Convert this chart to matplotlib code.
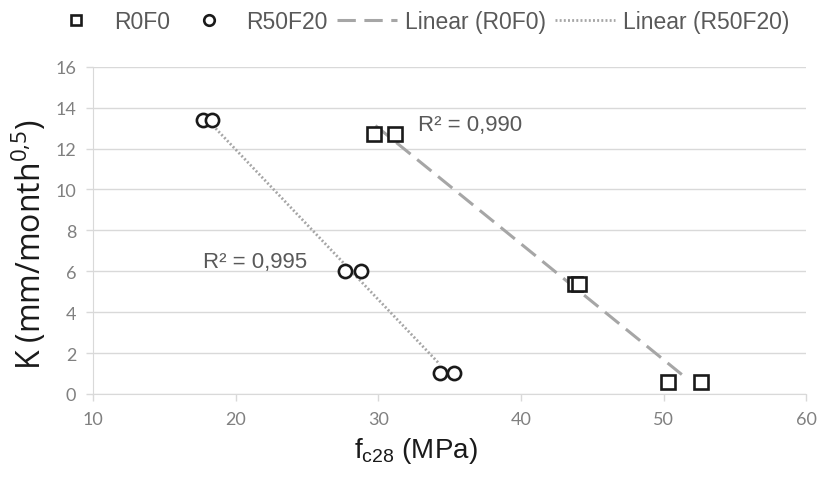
import numpy as np
import matplotlib.pyplot as plt

plt.rcParams['font.family'] = ['Liberation Sans', 'DejaVu Sans']
plt.rcParams['mathtext.default'] = 'regular'

# Data
r0f0_fc = [29.7, 31.2, 43.8, 44.1, 50.3, 52.6]
r0f0_k = [12.7, 12.7, 5.4, 5.4, 0.6, 0.6]
r50f20_fc = [17.7, 18.35, 27.7, 28.8, 34.3, 35.3]
r50f20_k = [13.4, 13.4, 6.0, 6.0, 1.0, 1.0]

# extent of the drawn trend lines
trend_r0f0_x = [29.8, 51.6]
trend_r50f20_x = [18.4, 34.3]
r2_labels = ['R² = 0,990', 'R² = 0,995']

fig = plt.figure(figsize=(8.22, 4.81), dpi=100)
ax = fig.add_axes([0.113, 0.179, 0.868, 0.68])

grid_c = '#d9d9d9'
tick_c = '#808080'
text_c = '#595959'

ax.plot(r0f0_fc, r0f0_k, 's', ms=9.5, mfc='white', mec='#1a1a1a', mew=1.9,
        label='R0F0', zorder=3)
ax.plot(r50f20_fc, r50f20_k, 'o', ms=9.5, mfc='white', mec='#1a1a1a', mew=1.9,
        label='R50F20', zorder=3)

# linear trend lines
p1 = np.polyfit(r0f0_fc, r0f0_k, 1)
xs1 = np.array(trend_r0f0_x)
ax.plot(xs1, np.polyval(p1, xs1), color='#a6a6a6', lw=2.2, ls=(0, (6, 2.8)),
        label='Linear (R0F0)', zorder=2)
p2 = np.polyfit(r50f20_fc, r50f20_k, 1)
xs2 = np.array(trend_r50f20_x)
ax.plot(xs2, np.polyval(p2, xs2), color='#a6a6a6', lw=2.0, ls=(0, (0.7, 0.8)),
        label='Linear (R50F20)', zorder=2)

ax.text(32.8, 13.2, r2_labels[0], fontsize=16, color=text_c, va='center')
ax.text(17.7, 6.5, r2_labels[1], fontsize=16, color=text_c, va='center')

ax.set_xlim(10, 60)
ax.set_ylim(0, 16)
ax.set_xticks(range(10, 61, 10))
ax.set_yticks(range(0, 17, 2))
ax.grid(axis='y', color=grid_c, lw=1)
ax.set_axisbelow(True)
for s in ['top', 'right']:
    ax.spines[s].set_visible(False)
for s in ['left', 'bottom']:
    ax.spines[s].set_color(grid_c)
ax.tick_params(axis='both', colors=grid_c, labelcolor=tick_c, labelsize=13,
               length=5, width=1)
ax.tick_params(axis='x', pad=7)
ax.tick_params(axis='y', pad=7)
for lab in ax.get_xticklabels() + ax.get_yticklabels():
    lab.set_family('Lato')

ax.set_xlabel('f$_{c28}$ (MPa)', fontsize=20, color='#1a1a1a')
ax.xaxis.set_label_coords(0.452, -0.125)
ax.set_ylabel('K (mm/month$^{0{,}5}$)', fontsize=23, color='#1a1a1a',
              family='Open Sans')
ax.yaxis.set_label_coords(-0.062, 0.46)

fig.legend(loc='center', bbox_to_anchor=(0.508, 0.953), ncol=4, frameon=False,
           fontsize=16.5, handlelength=2.6, handletextpad=0.35, columnspacing=0.4,
           markerscale=0.8, labelcolor=text_c, borderaxespad=0)

fig.savefig('out.png', dpi=100)
